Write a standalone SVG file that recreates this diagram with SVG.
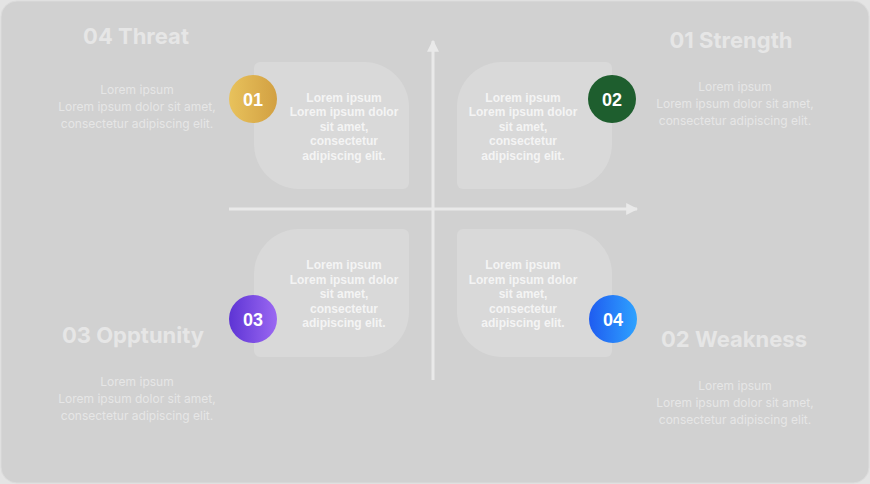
<svg xmlns="http://www.w3.org/2000/svg" width="870" height="484" viewBox="0 0 870 484">
<defs>
<linearGradient id="g1" x1="0" y1="0" x2="1" y2="0"><stop offset="0" stop-color="#e8c25c"/><stop offset="1" stop-color="#d2a042"/></linearGradient>
<linearGradient id="g3" x1="0" y1="0" x2="1" y2="0"><stop offset="0" stop-color="#5d34d4"/><stop offset="1" stop-color="#9b68f2"/></linearGradient>
<linearGradient id="g4" x1="0" y1="0" x2="1" y2="0"><stop offset="0" stop-color="#1f5cf0"/><stop offset="1" stop-color="#2ea2ff"/></linearGradient>
<marker id="arr" viewBox="0 0 10 10" refX="9" refY="5" markerWidth="4" markerHeight="4" orient="auto" markerUnits="strokeWidth"><path d="M0,0 L10,5 L0,10 Z" fill="#e9e9e9"/></marker>
<style>
.card{fill:#d9d9d9}
.ct{font-family:"Liberation Sans",Arial,sans-serif;font-weight:bold;font-size:12px;fill:#f4f4f4;text-anchor:middle}
.num{font-family:"Liberation Sans",Arial,sans-serif;font-weight:bold;font-size:18px;fill:#ffffff;text-anchor:middle}
.title{font-family:Inter,"Liberation Sans",sans-serif;font-weight:bold;font-size:22px;fill:#e6e6e6;text-anchor:middle}
.sub{font-family:Inter,"Liberation Sans",sans-serif;font-size:12px;fill:#e6e6e6;text-anchor:middle}
.axis{stroke:#e9e9e9;stroke-width:3;fill:none}
</style>
</defs>
<rect x="0" y="0" width="870" height="484" fill="#e4e4e4"/>
<rect x="1" y="1" width="868" height="482" rx="16" fill="#d1d1d1" stroke="#dcdcdc" stroke-width="1"/>

<g id="connectors">
<line class="axis" x1="229" y1="209" x2="637" y2="209" marker-end="url(#arr)"/>
<line class="axis" x1="433" y1="380" x2="433" y2="41" marker-end="url(#arr)"/>
</g>

<g id="card1">
<path class="card" d="M260,62 H364 A45,45 0 0 1 409,107 V183 A6,6 0 0 1 403,189 H299 A45,45 0 0 1 254,144 V68 A6,6 0 0 1 260,62 Z"/>
<circle cx="253" cy="99" r="24" fill="url(#g1)"/>
<text class="num" x="253" y="105.5">01</text>
<text class="ct" x="344" y="101.5">Lorem ipsum</text>
<text class="ct" x="344" y="116">Lorem ipsum dolor</text>
<text class="ct" x="344" y="130.5">sit amet,</text>
<text class="ct" x="344" y="145">consectetur</text>
<text class="ct" x="344" y="159.5">adipiscing elit.</text>
</g>

<g id="card2">
<path class="card" d="M606,62 H502 A45,45 0 0 0 457,107 V183 A6,6 0 0 0 463,189 H567 A45,45 0 0 0 612,144 V68 A6,6 0 0 0 606,62 Z"/>
<circle cx="612" cy="99" r="24" fill="#1e5e2e"/>
<text class="num" x="612" y="105.5">02</text>
<text class="ct" x="523" y="101.5">Lorem ipsum</text>
<text class="ct" x="523" y="116">Lorem ipsum dolor</text>
<text class="ct" x="523" y="130.5">sit amet,</text>
<text class="ct" x="523" y="145">consectetur</text>
<text class="ct" x="523" y="159.5">adipiscing elit.</text>
</g>

<g id="card3">
<path class="card" d="M299,229 H403 A6,6 0 0 1 409,235 V312 A45,45 0 0 1 364,357 H260 A6,6 0 0 1 254,351 V274 A45,45 0 0 1 299,229 Z"/>
<circle cx="253" cy="319" r="24" fill="url(#g3)"/>
<text class="num" x="253" y="325.5">03</text>
<text class="ct" x="344" y="269">Lorem ipsum</text>
<text class="ct" x="344" y="283.5">Lorem ipsum dolor</text>
<text class="ct" x="344" y="298">sit amet,</text>
<text class="ct" x="344" y="312.5">consectetur</text>
<text class="ct" x="344" y="327">adipiscing elit.</text>
</g>

<g id="card4">
<path class="card" d="M567,229 H463 A6,6 0 0 0 457,235 V312 A45,45 0 0 0 502,357 H606 A6,6 0 0 0 612,351 V274 A45,45 0 0 0 567,229 Z"/>
<circle cx="613" cy="319" r="24" fill="url(#g4)"/>
<text class="num" x="613" y="325.5">04</text>
<text class="ct" x="523" y="269">Lorem ipsum</text>
<text class="ct" x="523" y="283.5">Lorem ipsum dolor</text>
<text class="ct" x="523" y="298">sit amet,</text>
<text class="ct" x="523" y="312.5">consectetur</text>
<text class="ct" x="523" y="327">adipiscing elit.</text>
</g>

<g id="threat">
<text class="title" x="136" y="44">04 Threat</text>
<text class="sub" x="137" y="94">Lorem ipsum</text>
<text class="sub" x="137" y="111">Lorem ipsum dolor sit amet,</text>
<text class="sub" x="137" y="128">consectetur adipiscing elit.</text>
</g>

<g id="strength">
<text class="title" x="731" y="48">01 Strength</text>
<text class="sub" x="735" y="91">Lorem ipsum</text>
<text class="sub" x="735" y="108">Lorem ipsum dolor sit amet,</text>
<text class="sub" x="735" y="125">consectetur adipiscing elit.</text>
</g>

<g id="opportunity">
<text class="title" x="133" y="343">03 Opptunity</text>
<text class="sub" x="137" y="386">Lorem ipsum</text>
<text class="sub" x="137" y="403">Lorem ipsum dolor sit amet,</text>
<text class="sub" x="137" y="420">consectetur adipiscing elit.</text>
</g>

<g id="weakness">
<text class="title" x="734" y="347">02 Weakness</text>
<text class="sub" x="735" y="390">Lorem ipsum</text>
<text class="sub" x="735" y="407">Lorem ipsum dolor sit amet,</text>
<text class="sub" x="735" y="424">consectetur adipiscing elit.</text>
</g>
</svg>
